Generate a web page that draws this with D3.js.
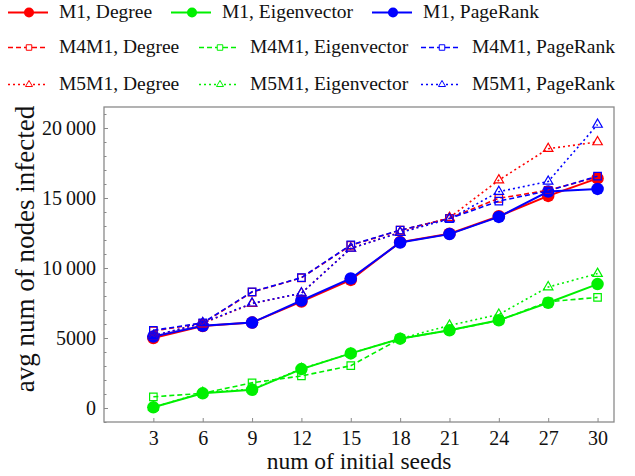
<!DOCTYPE html>
<html>
<head>
<meta charset="utf-8">
<script src="https://cdn.jsdelivr.net/npm/d3@7"></script>
<style>
  body { margin: 0; background: #fff; }
  text { font-family: "Liberation Serif", serif; fill: #111; }
</style>
</head>
<body>
<div id="chart"></div>
<script>
// seeds on the x axis
const seeds = [3, 6, 9, 12, 15, 18, 21, 24, 27, 30];

// avg num of nodes infected
const m1Degree = [5000, 5850, 6100, 7600, 9150, 11850, 12450, 13700, 15150, 16400];
const m1Eigen = [50, 1050, 1300, 2780, 3900, 4950, 5550, 6270, 7520, 8850];
const m1PageRank = [5100, 5870, 6100, 7680, 9250, 11820, 12420, 13650, 15460, 15650];
const m4m1Degree = [5500, 6050, 8280, 9300, 11620, 12700, 13550, 14980, 15550, 16500];
const m4m1Eigen = [800, 1050, 1800, 2290, 3020, 4950, 5550, 6250, 7590, 7900];
const m4m1PageRank = [5550, 6080, 8300, 9310, 11650, 12700, 13530, 14780, 15510, 16560];
const m5m1Degree = [5150, 6050, 7450, 8200, 11400, 12550, 13600, 16280, 18520, 19000];
const m5m1Eigen = [50, 1100, 1350, 2800, 3900, 4950, 5900, 6680, 8640, 9600];
const m5m1PageRank = [5150, 6080, 7480, 8200, 11400, 12530, 13500, 15450, 16180, 20250];

const seriesNames = [
  "M1, Degree", "M1, Eigenvector", "M1, PageRank",
  "M4M1, Degree", "M4M1, Eigenvector", "M4M1, PageRank",
  "M5M1, Degree", "M5M1, Eigenvector", "M5M1, PageRank"
];
const seriesValues = [m1Degree, m1Eigen, m1PageRank, m4m1Degree, m4m1Eigen, m4m1PageRank, m5m1Degree, m5m1Eigen, m5m1PageRank];

const xTicks = seeds;
const yTicks = [0, 5000, 10000, 15000, 20000];

const colors = ["#ff0000", "#00f000", "#0000ff"];
// one style per method: solid circle, dashed square, dotted triangle
const styles = [
  {dash: null, width: 2, marker: "circle"},
  {dash: "5,3", width: 1.6, marker: "square"},
  {dash: "2,3", width: 1.6, marker: "triangle"}
];

const series = seriesNames.map((name, i) => ({
  name: name,
  color: colors[i % 3],
  style: styles[Math.floor(i / 3)],
  points: seeds.map((s, j) => ({x: s, y: seriesValues[i][j]}))
}));

const width = 635, height = 476;
const margin = {top: 107, right: 21, bottom: 54, left: 104};
const innerW = width - margin.left - margin.right;
const innerH = height - margin.top - margin.bottom;

const svg = d3.select("#chart").append("svg")
    .attr("width", width)
    .attr("height", height);

const xScale = d3.scaleLinear().domain([0, 31]).range([0, innerW]);
const yScale = d3.scaleLinear().domain([-1000, 21500]).range([innerH, 0]);

const chart = svg.append("g")
    .attr("transform", `translate(${margin.left},${margin.top})`);

const frameColor = "#8a8a8a";

// axes with inward ticks, minor y ticks every 1000
const fmt = d => d >= 10000 ? d3.format(",")(d).replace(",", "\u2009") : String(d);
const yAxis = d3.axisLeft(yScale).tickValues(yTicks).tickSize(-4).tickPadding(8).tickFormat(fmt);
const yMinor = d3.axisLeft(yScale).tickValues(d3.range(-1000, 21001, 1000)).tickSize(-2.5).tickFormat("");
const xAxis = d3.axisBottom(xScale).tickValues(xTicks).tickSize(-4).tickPadding(9).tickFormat(d3.format("d"));

const yMinorG = chart.append("g").call(yMinor);
const yAxisG = chart.append("g").call(yAxis);
const xAxisG = chart.append("g").attr("transform", `translate(0,${innerH})`).call(xAxis);

[yMinorG, yAxisG, xAxisG].forEach(g => {
  g.attr("font-family", null);
  g.select(".domain").remove();
  g.selectAll("line").attr("stroke", frameColor).attr("stroke-width", 1);
  g.selectAll("text")
      .style("font-family", "'Liberation Serif', serif")
      .style("font-size", "20px")
      .attr("fill", "#111");
});

// frame
chart.append("rect")
    .attr("width", innerW)
    .attr("height", innerH)
    .attr("fill", "none")
    .attr("stroke", frameColor)
    .attr("stroke-width", 1.3);

// markers: size is roughly the marker's width in px
const markerPath = (type, size) => {
  if (type === "circle") return d3.symbol(d3.symbolCircle, Math.PI * size * size / 4)();
  if (type === "square") return d3.symbol(d3.symbolSquare, size * size)();
  return d3.symbol(d3.symbolTriangle, Math.sqrt(3) / 4 * size * size)();
};

const markerSize = {circle: 12.5, square: 7.5, triangle: 9.5};
const legendMarkerSize = {circle: 10, square: 5.5, triangle: 7};

const line = d3.line().x(d => xScale(d.x)).y(d => yScale(d.y));

series.forEach(s => {
  const g = chart.append("g");
  const filled = s.style.marker === "circle";
  g.append("path")
      .datum(s.points)
      .attr("d", line)
      .attr("fill", "none")
      .attr("stroke", s.color)
      .attr("stroke-width", s.style.width)
      .attr("stroke-dasharray", s.style.dash);
  g.selectAll(".mark")
      .data(s.points)
    .join("path")
      .attr("class", "mark")
      .attr("transform", d => `translate(${xScale(d.x)},${yScale(d.y)})`)
      .attr("d", markerPath(s.style.marker, markerSize[s.style.marker]))
      .attr("fill", filled ? s.color : "none")
      .attr("stroke", filled ? "none" : s.color)
      .attr("stroke-width", 1.2);
});

// axis labels
svg.append("text")
    .attr("x", margin.left + innerW / 2)
    .attr("y", 469)
    .attr("text-anchor", "middle")
    .style("font-size", "23.5px")
    .text("num of initial seeds");

svg.append("text")
    .attr("transform", "translate(34,249) rotate(-90)")
    .attr("text-anchor", "middle")
    .style("font-size", "27px")
    .text("avg num of nodes infected");

// legend
const legendRows = [
  {y: 12.5, xs: [8, 171, 372]},
  {y: 47.5, xs: [8, 199, 421]},
  {y: 84.5, xs: [8, 199, 421]}
];
series.forEach((s, i) => {
  const row = legendRows[Math.floor(i / 3)];
  const x0 = row.xs[i % 3];
  const filled = s.style.marker === "circle";
  const lg = svg.append("g").attr("transform", `translate(${x0},${row.y})`);
  lg.append("line")
      .attr("x1", 0).attr("x2", 40)
      .attr("stroke", s.color)
      .attr("stroke-width", s.style.width)
      .attr("stroke-dasharray", s.style.dash);
  lg.append("path")
      .attr("transform", "translate(21,0)")
      .attr("d", markerPath(s.style.marker, legendMarkerSize[s.style.marker]))
      .attr("fill", filled ? s.color : "#fff")
      .attr("stroke", filled ? "none" : s.color)
      .attr("stroke-width", 1);
  lg.append("text")
      .attr("x", 51)
      .attr("y", 5)
      .style("font-size", "19.5px")
      .text(s.name);
});
</script>
</body>
</html>
